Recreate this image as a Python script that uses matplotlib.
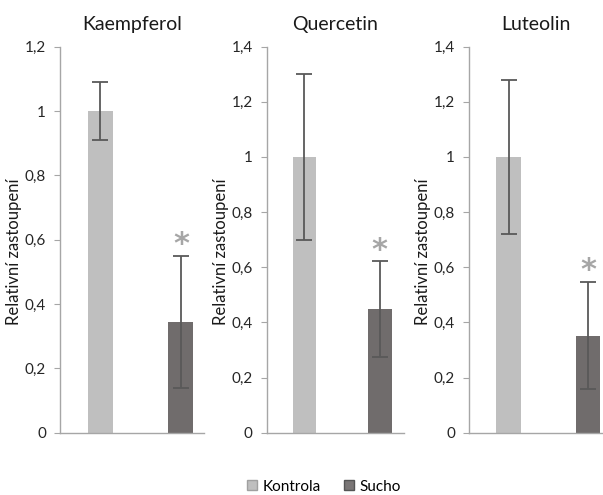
import matplotlib
matplotlib.use("Agg")
import matplotlib.pyplot as plt
from matplotlib.ticker import FuncFormatter
from matplotlib.patches import Patch

plt.rcParams['font.family'] = ['Lato', 'DejaVu Sans']

titles = ["Kaempferol", "Quercetin", "Luteolin"]
groups = ["Kontrola", "Sucho"]
kontrola = [1.0, 1.0, 1.0]
kontrola_err = [0.09, 0.30, 0.28]
sucho = [0.345, 0.448, 0.352]
sucho_err = [0.205, 0.173, 0.195]
ymax = [1.2, 1.4, 1.4]

c_kon = "#bfbfbf"
c_such = "#706c6c"
c_err = "#595959"
c_axis = "#a6a6a6"

W, H = 603, 495
fig = plt.figure(figsize=(W / 100, H / 100), dpi=100)

# axes boxes in pixels: left, right, xlim right
boxes = [(60, 204, 1.286), (266.7, 404, 1.32), (469, 603, 1.19)]
top_px, bot_px = 46.7, 432.7

fmt = FuncFormatter(lambda v, p: ("%g" % round(v, 1)).replace(".", ","))

for i, (l, r, xr) in enumerate(boxes):
    ax = fig.add_axes([l / W, (H - bot_px) / H, (r - l) / W, (bot_px - top_px) / H])
    vals = [kontrola[i], sucho[i]]
    errs = [kontrola_err[i], sucho_err[i]]
    ax.bar([0, 1], vals, width=0.31, color=[c_kon, c_such], zorder=2)
    ax.errorbar([0, 1], vals, yerr=errs, fmt='none', ecolor=c_err,
                elinewidth=1.3, capsize=5.5, capthick=1.3, zorder=3)
    ax.annotate("*", (1, sucho[i] + sucho_err[i]), xytext=(0, 2),
                textcoords="offset points", ha="center", va="baseline",
                fontsize=22, color="#a6a6a6", fontweight="bold",
                family="DejaVu Sans")
    ax.set_xlim(-0.5, xr)
    ax.set_ylim(0, ymax[i])
    step = 0.2
    ax.set_yticks([k * step for k in range(int(round(ymax[i] / step)) + 1)])
    ax.yaxis.set_major_formatter(fmt)
    ax.set_xticks([])
    for s in ["top", "right"]:
        ax.spines[s].set_visible(False)
    for s in ["left", "bottom"]:
        ax.spines[s].set_color(c_axis)
        ax.spines[s].set_linewidth(1.0)
    ax.tick_params(axis="y", colors=c_axis, labelcolor="#262626", labelsize=11,
                   length=4, direction="out", pad=6)
    ax.set_title(titles[i], fontsize=14, color="#1a1a1a", pad=12)
    ax.set_ylabel("Relativní zastoupení", fontsize=12, color="#1a1a1a", labelpad=2)
    ax.yaxis.label.set_y(0.47)
    ax.patch.set_alpha(0)

handles = [Patch(facecolor=c_kon, edgecolor="#a0a0a0"), Patch(facecolor="#7a7676", edgecolor="#555555")]
fig.legend(handles, groups, loc="center", bbox_to_anchor=(0.5375, 0.017), ncol=2,
           frameon=False, fontsize=11, handlelength=0.65, handleheight=0.65,
           handletextpad=0.35, columnspacing=1.55)

fig.savefig("out.png", dpi=100, facecolor="white")
